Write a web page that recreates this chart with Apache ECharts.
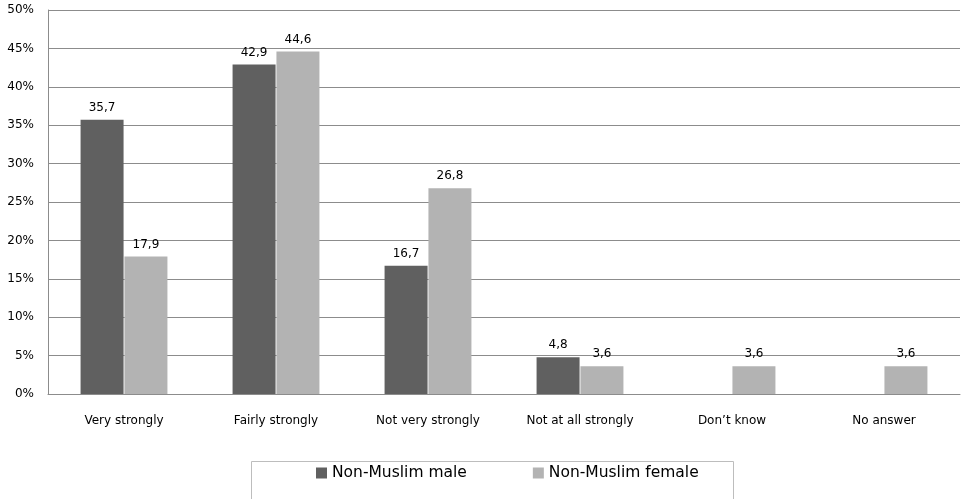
<!DOCTYPE html>
<html>
<head>
<meta charset="utf-8">
<script src="https://cdn.jsdelivr.net/npm/echarts@6/dist/echarts.min.js"></script>
<style>
  html, body { margin: 0; padding: 0; background: #fff; }
  #chart { width: 961px; height: 499px; }
</style>
</head>
<body>
<div id="chart"></div>
<script>
// Answer categories
const categories = ['Very strongly', 'Fairly strongly', 'Not very strongly', 'Not at all strongly', 'Don\u2019t know', 'No answer'];
// Percentages per group ('-' = no bar)
const maleValues = [35.7, 42.9, 16.7, 4.8, '-', '-'];
const femaleValues = [17.9, 44.6, 26.8, 3.6, 3.6, 3.6];
const seriesNames = ['Non-Muslim male', 'Non-Muslim female'];

const font = 'DejaVu Sans';
const labelFmt = p => String(p.value).replace('.', ',');

const chart = echarts.init(document.getElementById('chart'), null, { renderer: 'canvas' });
chart.setOption({
  animation: false,
  backgroundColor: '#fff',
  textStyle: { fontFamily: font },
  grid: { left: 48, right: 1, top: 10, bottom: 105, containLabel: false },
  legend: {
    data: seriesNames,
    left: 316,
    top: 465,
    padding: 0,
    itemWidth: 11,
    itemHeight: 11,
    itemGap: 66,
    icon: 'rect',
    textStyle: { fontFamily: font, fontSize: 15.5, color: '#000' }
  },
  graphic: [{
    type: 'rect',
    shape: { x: 251.5, y: 461.5, width: 482, height: 60 },
    style: { fill: 'none', stroke: '#bdbdbd', lineWidth: 1 },
    silent: true
  }],
  xAxis: {
    type: 'category',
    data: categories,
    axisLine: { lineStyle: { color: '#8c8c8c' } },
    axisTick: { show: false },
    axisLabel: { color: '#000', fontSize: 12, margin: 21, fontFamily: font }
  },
  yAxis: {
    type: 'value',
    min: 0,
    max: 50,
    interval: 5,
    axisLine: { show: true, lineStyle: { color: '#8c8c8c' } },
    axisTick: { show: false },
    axisLabel: { color: '#000', fontSize: 12, margin: 14, formatter: '{value}%', fontFamily: font },
    splitLine: { lineStyle: { color: '#8c8c8c' } }
  },
  series: [
    {
      name: seriesNames[0],
      type: 'bar',
      data: maleValues,
      barWidth: 43,
      barGap: '2%',
      itemStyle: { color: '#606060' },
      label: { show: true, position: 'top', distance: 6, color: '#000', fontSize: 12, fontFamily: font, formatter: labelFmt }
    },
    {
      name: seriesNames[1],
      type: 'bar',
      data: femaleValues,
      barWidth: 43,
      itemStyle: { color: '#b3b3b3' },
      label: { show: true, position: 'top', distance: 6, color: '#000', fontSize: 12, fontFamily: font, formatter: labelFmt }
    }
  ]
});
</script>
</body>
</html>
